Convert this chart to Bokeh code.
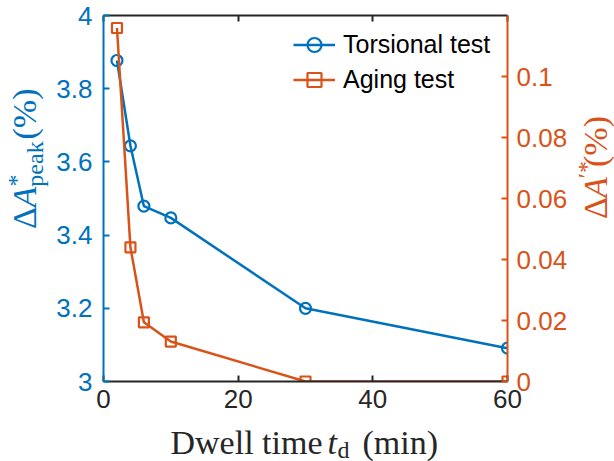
import math
from bokeh.plotting import figure
from bokeh.layouts import row, column
from bokeh.models import Range1d, LinearAxis, FixedTicker, Legend, LegendItem, Label
from bokeh.embed import file_html
from bokeh.resources import INLINE

# ---------------- data ----------------
dwell_time = [2, 4, 6, 10, 30, 60]
torsional = [3.877, 3.644, 3.479, 3.447, 3.200, 3.091]
aging = [0.1159, 0.0440, 0.0194, 0.0131, 0.0, 0.0]
series_names = ["Torsional test", "Aging test"]

x_ticks = [0, 20, 40, 60]
left_ticks = [3.0, 3.2, 3.4, 3.6, 3.8, 4.0]
left_tick_labels = ["3", "3.2", "3.4", "3.6", "3.8", "4"]
right_ticks = [0.0, 0.02, 0.04, 0.06, 0.08, 0.1]
right_tick_labels = ["0", "0.02", "0.04", "0.06", "0.08", "0.1"]

BLUE = "#0072BD"
ORANGE = "#D95319"
DARK = "#262626"
SANS = "Liberation Sans"
SERIF = "Liberation Serif"
TICK_SIZE = "26px"
LAB = "34px"
SUB = "24px"

# ---------------- main plot ----------------
p = figure(width=518, height=421,
           x_range=Range1d(0, 60), y_range=Range1d(3, 4),
           output_backend="svg", toolbar_location=None,
           min_border_left=51, min_border_right=60,
           min_border_top=15, min_border_bottom=40)
p.extra_y_ranges = {"right": Range1d(0, 0.12)}
p.xgrid.visible = False
p.ygrid.visible = False
p.outline_line_color = None
p.background_fill_color = "white"
p.border_fill_color = "white"

l1 = p.line(dwell_time, torsional, line_color=BLUE, line_width=2.5)
s1 = p.scatter(dwell_time, torsional, marker="circle", size=11,
               line_color=BLUE, line_width=2.2, fill_color=None)
l2 = p.line(dwell_time, aging, line_color=ORANGE, line_width=2.5, y_range_name="right")
s2 = p.scatter(dwell_time, aging, marker="square", size=10,
               line_color=ORANGE, line_width=2.2, fill_color=None, y_range_name="right")


def style_axis(ax, color, ticks, overrides=None, standoff=9):
    ax.ticker = FixedTicker(ticks=ticks)
    ax.axis_line_color = color
    ax.axis_line_width = 2
    ax.major_tick_line_color = color
    ax.major_tick_line_width = 2
    ax.major_tick_in = 6
    ax.major_tick_out = 0
    ax.minor_tick_in = 0
    ax.minor_tick_out = 0
    ax.major_label_text_font = SANS
    ax.major_label_text_font_size = TICK_SIZE
    ax.major_label_text_color = color
    ax.major_label_standoff = standoff
    if overrides:
        ax.major_label_overrides = overrides


style_axis(p.xaxis[0], DARK, x_ticks, standoff=8)
style_axis(p.yaxis[0], BLUE, left_ticks,
           {t: s for t, s in zip(left_ticks, left_tick_labels)}, standoff=11)

rax = LinearAxis(y_range_name="right")
style_axis(rax, ORANGE, right_ticks,
           {t: s for t, s in zip(right_ticks, right_tick_labels)}, standoff=9)
p.add_layout(rax, "right")

tax = LinearAxis()
style_axis(tax, DARK, x_ticks, standoff=0)
tax.major_label_text_font_size = "0px"
tax.major_label_text_alpha = 0
p.add_layout(tax, "above")

legend = Legend(items=[LegendItem(label=series_names[0], renderers=[l1, s1]),
                       LegendItem(label=series_names[1], renderers=[l2, s2])],
                location=(190, 284), orientation="vertical",
                glyph_width=42, glyph_height=35, label_height=35,
                spacing=0, padding=0, margin=0, label_standoff=8,
                label_text_font=SANS, label_text_font_size="25px",
                label_text_color="black", label_text_baseline="middle",
                border_line_alpha=0, background_fill_alpha=0)
p.add_layout(legend)


# ---------------- label panels ----------------
def panel(w, h):
    f = figure(width=w, height=h, x_range=Range1d(0, 1), y_range=Range1d(0, 1),
               x_axis_type=None, y_axis_type=None,
               output_backend="svg", toolbar_location=None,
               min_border=0, min_border_left=0, min_border_right=0,
               min_border_top=0, min_border_bottom=0)
    f.outline_line_color = None
    f.background_fill_color = "white"
    f.border_fill_color = "white"
    return f


def lab(f, text, x, y, color, size=LAB, style="normal", angle=0.0,
        align="left", baseline="alphabetic"):
    f.add_layout(Label(text=text, x=x, y=y, x_units="screen", y_units="screen",
                       angle=angle, angle_units="rad",
                       text_font=SERIF, text_font_size=size, text_font_style=style,
                       text_color=color, text_align=align, text_baseline=baseline))


def vlab(f, text, x, y, color, size=LAB, style="normal"):
    # rotated piece, anchored at its centre
    lab(f, text, x, y, color, size=size, style=style, angle=math.pi / 2,
        align="center", baseline="middle")


left_fig = panel(52, 421)
vlab(left_fig, "Δ", 23.5, 163.5, BLUE)
vlab(left_fig, "A", 23.5, 184.5, BLUE, style="italic")
vlab(left_fig, "*", 15, 201, BLUE, size=SUB)
vlab(left_fig, "peak", 34, 217.5, BLUE, size=SUB)
vlab(left_fig, "(%)", 23.5, 267.5, BLUE)

right_fig = panel(44, 421)
vlab(right_fig, "Δ", 24.5, 173.5, ORANGE)
vlab(right_fig, "A", 24.5, 194, ORANGE, style="italic")
vlab(right_fig, "′*", 15, 212, ORANGE, size=SUB)
vlab(right_fig, "(%)", 24.5, 240, ORANGE)

bottom_fig = panel(614, 40)
lab(bottom_fig, "Dwell time", 170, 19, DARK)
lab(bottom_fig, "t", 327, 19, DARK, style="italic")
lab(bottom_fig, "d", 337, 12, DARK, size=SUB)
lab(bottom_fig, "(min)", 362, 19, DARK)

layout = column(row(left_fig, p, right_fig), bottom_fig)

open("out.html", "w").write(file_html(layout, INLINE))
